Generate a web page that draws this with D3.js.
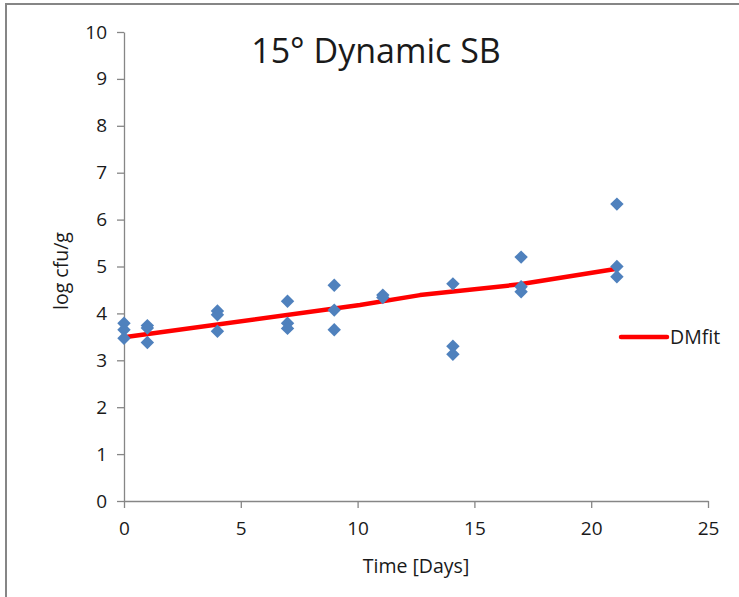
<!DOCTYPE html>
<html><head><meta charset="utf-8">
<script src="https://cdn.jsdelivr.net/npm/d3@7"></script>
<style>body{margin:0;background:#fff}svg{display:block}text{font-family:"Open Sans",sans-serif;fill:#1a1a1a}</style>
</head><body>
<script>
const obsDays = [0,0,0, 1,1,1, 4,4,4, 7,7,7, 9,9,9, 11.08,11.08, 14.08,14.08,14.08, 17,17,17, 21.1,21.1,21.1];
const obsValues = [3.79,3.65,3.47, 3.74,3.69,3.38, 4.05,3.97,3.62, 4.26,3.79,3.68, 4.60,4.07,3.65, 4.39,4.34, 4.63,3.30,3.13, 5.20,4.57,4.46, 6.33,5.00,4.78];
const fitDays = [0, 10.1, 12.67, 16.95, 21.1];
const fitValues = [3.49, 4.18, 4.39, 4.62, 4.95];
const xTicks = [0,5,10,15,20,25];
const yTicks = [0,1,2,3,4,5,6,7,8,9,10];
const title = "15° Dynamic SB";
const xTitle = "Time [Days]";
const yTitle = "log cfu/g";
const legendLabel = "DMfit";

const W = 739, H = 597;
const svg = d3.select("body").append("svg").attr("width", W).attr("height", H);
svg.append("rect").attr("x",6).attr("y",4).attr("width",W+20).attr("height",H+20)
  .attr("fill","#fff").attr("stroke","#868686").attr("stroke-width",2);

const x = d3.scaleLinear().domain([0,25]).range([124,708]);
const y = d3.scaleLinear().domain([0,10]).range([501,32]);

const axisColor = "#868686";
const gx = svg.append("g").attr("transform","translate(0,501)")
  .call(d3.axisBottom(x).tickValues(xTicks).tickSize(7).tickSizeOuter(0).tickPadding(14));
const gy = svg.append("g").attr("transform","translate(124,0)")
  .call(d3.axisLeft(y).tickValues(yTicks).tickSize(7).tickSizeOuter(0).tickPadding(10));
[gx,gy].forEach(g=>{
  g.select(".domain").attr("stroke",axisColor).attr("stroke-width",1.3);
  g.selectAll(".tick line").attr("stroke",axisColor).attr("stroke-width",1.3);
  g.selectAll(".tick text").attr("font-size",19).attr("font-family","Open Sans, sans-serif").attr("fill","#1a1a1a");
});

const line = d3.line().x((d,i)=>x(fitDays[i])).y((d,i)=>y(fitValues[i]));
svg.append("path").datum(fitValues).attr("d",line).attr("fill","none")
  .attr("stroke","#ff0000").attr("stroke-width",4.5).attr("stroke-linejoin","round");

const sym = d3.symbol().type(d3.symbolDiamond2).size(115);
svg.append("g").selectAll("path").data(obsValues).join("path")
  .attr("transform",(d,i)=>`translate(${x(obsDays[i])},${y(d)})`)
  .attr("d",sym).attr("fill","#4f81bd");

svg.append("text").attr("x",376).attr("y",63).attr("text-anchor","middle")
  .attr("font-size",34).text(title);
svg.append("text").attr("x",416).attr("y",573).attr("text-anchor","middle")
  .attr("font-size",19.5).text(xTitle);
svg.append("text").attr("transform","translate(68,271) rotate(-90)").attr("text-anchor","middle")
  .attr("font-size",19.5).text(yTitle);

svg.append("line").attr("x1",621).attr("x2",667).attr("y1",337).attr("y2",337)
  .attr("stroke","#ff0000").attr("stroke-width",4.5).attr("stroke-linecap","round");
svg.append("text").attr("x",670).attr("y",344).attr("font-size",19.5).text(legendLabel);
</script>
</body></html>
